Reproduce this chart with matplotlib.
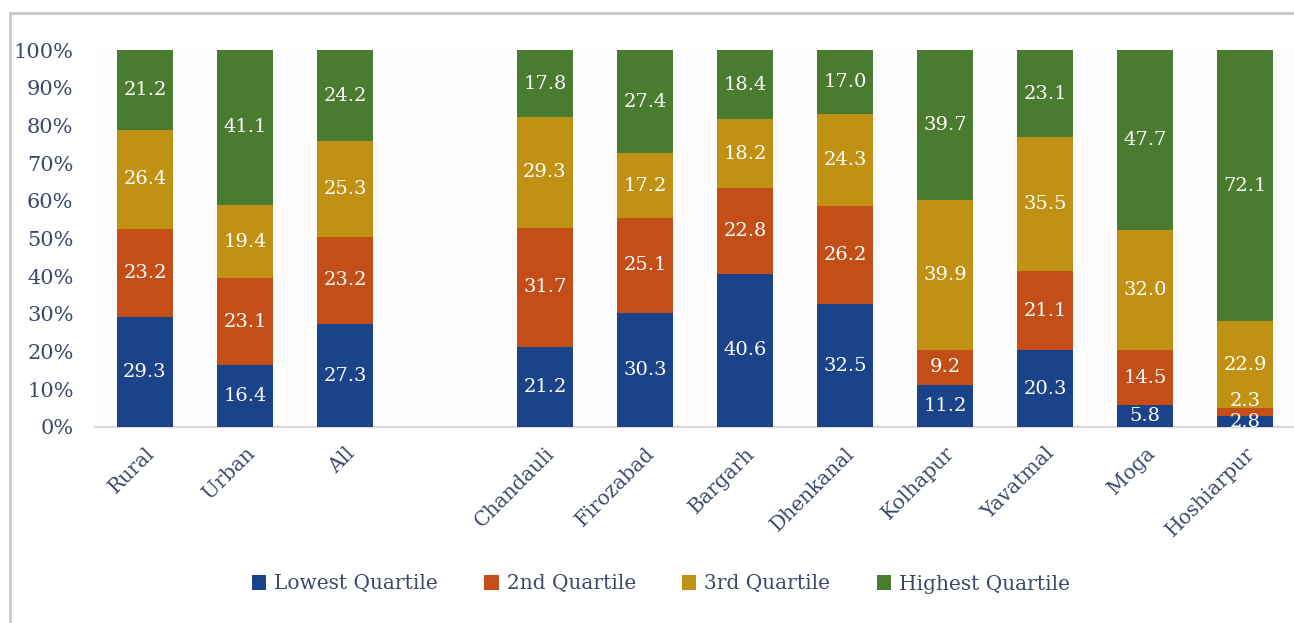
import matplotlib.pyplot as plt
from matplotlib.patches import Rectangle
import numpy as np

# Share of households in each income quartile, by area and district (%)
places = ['Rural', 'Urban', 'All', '', 'Chandauli', 'Firozabad', 'Bargarh', 'Dhenkanal',
          'Kolhapur', 'Yavatmal', 'Moga', 'Hoshiarpur']
lowest = [29.3, 16.4, 27.3, 0, 21.2, 30.3, 40.6, 32.5, 11.2, 20.3, 5.8, 2.8]
second = [23.2, 23.1, 23.2, 0, 31.7, 25.1, 22.8, 26.2, 9.2, 21.1, 14.5, 2.3]
third = [26.4, 19.4, 25.3, 0, 29.3, 17.2, 18.2, 24.3, 39.9, 35.5, 32.0, 22.9]
highest = [21.2, 41.1, 24.2, 0, 17.8, 27.4, 18.4, 17.0, 39.7, 23.1, 47.7, 72.1]

series = [('Lowest Quartile', lowest, '#1b438a'),
          ('2nd Quartile', second, '#c44e18'),
          ('3rd Quartile', third, '#c19114'),
          ('Highest Quartile', highest, '#4a7c2f')]

text_col = '#3b4868'
plt.rcParams['font.family'] = ['DejaVu Serif']

fig = plt.figure(figsize=(12.94, 6.23), dpi=100)
# frame line along the top and left edge
fig.patches.append(Rectangle((10 / 1294, -0.1), 1.2, 1.1 - 13 / 623, transform=fig.transFigure,
                             fill=False, edgecolor='#c8c8c8', linewidth=2))

ax = fig.add_axes([95 / 1294, 1 - 427 / 623, 1199 / 1294, 377 / 623])
ax.set_facecolor('#fdfdfd')
x = np.arange(len(places))
bottom = np.zeros(len(places))
for name, vals, col in series:
    vals = np.array(vals, dtype=float)
    ax.bar(x, vals, 0.56, bottom=bottom, color=col, label=name, zorder=3)
    for i, v in enumerate(vals):
        if v == 0:
            continue
        yc = bottom[i] + v / 2
        # small second-quartile slice in Hoshiarpur: lift label clear of the others
        if name == '2nd Quartile' and places[i] == 'Hoshiarpur':
            yc += 3
        ax.text(x[i], yc, f'{v:.1f}', ha='center', va='center', color='white',
                fontsize=14, zorder=4, clip_on=True)
    bottom += vals

ax.set_xlim(-0.5, 11.49)
ax.set_ylim(0, 100)
ax.set_yticks(np.arange(0, 101, 10))
ax.set_yticklabels([f'{t}%' for t in range(0, 101, 10)], fontsize=15, color=text_col)
ax.set_xticks([i for i in x if places[i]])
ax.set_xticklabels([p for p in places if p], rotation=45, ha='right',
                   rotation_mode='anchor', fontsize=14.5, color=text_col)
ax.tick_params(length=0, pad=12)
ax.tick_params(axis='y', pad=15.5)
for s in ['top', 'right', 'left']:
    ax.spines[s].set_visible(False)
ax.spines['bottom'].set_color('#d9d9d9')
ax.spines['bottom'].set_linewidth(1.5)

fig.legend(loc='center', bbox_to_anchor=(661 / 1294, 1 - 584 / 623), ncol=4, frameon=False,
           fontsize=14.5, handlelength=0.7, handleheight=0.7, handletextpad=0.4,
           columnspacing=2.3, labelcolor=text_col)

fig.savefig('out.png', dpi=100)
